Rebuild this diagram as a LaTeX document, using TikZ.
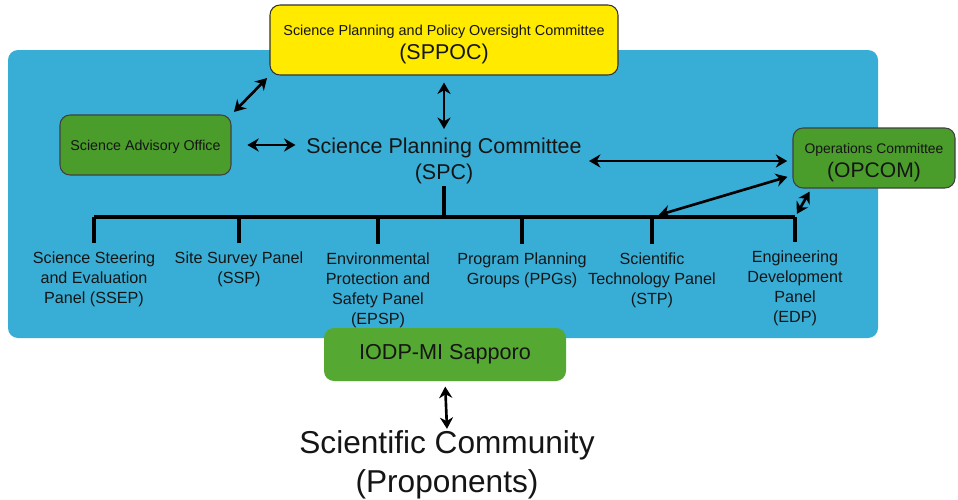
\documentclass[tikz,border=0pt]{standalone}
\usepackage{fontspec}
\setmainfont{Liberation Sans}
\usetikzlibrary{positioning, arrows.meta, shapes.geometric}

\definecolor{panelblue}{HTML}{38AED6}
\definecolor{boardyellow}{HTML}{FFEA00}
\definecolor{officegreen}{HTML}{4A9C2B}
\definecolor{mitgreen}{HTML}{55A832}
\definecolor{inktext}{HTML}{151515}

\begin{document}
\begin{tikzpicture}[
    x=0.2mm, y=-0.2mm,
    text=inktext,
    box/.style={rectangle, rounded corners=2mm, align=center, inner sep=1pt},
    board/.style={box, draw=black!80, fill=boardyellow, line width=0.6pt,
                  minimum width=69.6mm, minimum height=14mm},
    office/.style={box, draw=black!75, fill=officegreen, line width=0.6pt,
                   minimum height=12mm},
    mit/.style={box, fill=mitgreen, minimum width=48.4mm, minimum height=10.6mm},
    panel/.style={align=center, inner sep=1pt, font=\fontsize{9.2}{11.3}\selectfont},
    arrow/.style={{Stealth[length=6.5pt,width=7.5pt]}-{Stealth[length=6.5pt,width=7.5pt]},
                  line width=1.5pt, black},
    tree/.style={line width=2.2pt, black},
    small/.style={font=\fontsize{8.1}{10}\selectfont},
    big/.style={font=\fontsize{12.2}{14.7}\selectfont}
]

% --- Fondo ---
\useasboundingbox (0,0) rectangle (958,500);
\fill[panelblue, rounded corners=2mm] (8,50) rectangle (878,338);

% --- Comites ---
\node[board] (sppoc) at (444,40)
    {{\fontsize{8.2}{10}\selectfont \rule{0pt}{11pt}Science Planning and Policy Oversight Committee}\\[2pt]
     {\fontsize{12.2}{14}\selectfont (SPPOC)}};
\node[office, small, minimum width=34.2mm] (sao) at (145.5,145) {\rule{0pt}{8pt}Science Advisory Office};
\node[big, align=center, inner sep=1pt] (spc) at (444,161) {Science Planning Committee\\(SPC)};
\node[office, minimum width=32.4mm] (opcom) at (874,158)
    {{\fontsize{7.9}{10}\selectfont \rule{0pt}{11pt}Operations Committee}\\[2pt]
     {\fontsize{12}{14}\selectfont (OPCOM)}};

% --- Paneles ---
\coordinate (d1) at (94,217);
\coordinate (d2) at (239,217);
\coordinate (d3) at (378,217);
\coordinate (d4) at (522,217);
\coordinate (d5) at (652,217);
\coordinate (d6) at (795,217);

\node[panel, anchor=north] (ssep) at (94,250) {Science Steering\\and Evaluation\\Panel (SSEP)};
\node[panel, anchor=north] (ssp) at (239,250) {Site Survey Panel\\(SSP)};
\node[panel, anchor=north] (epsp) at (378,251) {Environmental\\Protection and\\Safety Panel\\(EPSP)};
\node[panel, anchor=north] (ppg) at (522,251) {Program Planning\\Groups (PPGs)};
\node[panel, anchor=north] (stp) at (652,251) {Scientific\\Technology Panel\\(STP)};
\node[panel, anchor=north] (edp) at (795,249) {Engineering\\Development\\Panel\\(EDP)};

% --- IODP-MI y comunidad ---
\node[mit, font=\fontsize{12.3}{14}\selectfont] (iodp) at (445,354.5) {IODP-MI Sapporo};
\node[align=center, inner sep=1pt, font=\fontsize{18}{22}\selectfont] (comm) at (447,465)
    {Scientific Community\\(Proponents)};

% --- Arbol ---
\draw[tree] (spc.south) -- (spc.south |- d1);
\draw[tree] (d1) -- (d6);
\foreach \d/\p in {d1/ssep, d2/ssp, d3/epsp, d4/ppg, d5/stp, d6/edp}
    \draw[tree, shorten >=4pt] (\d) -- (\d |- \p.north);

% --- Flechas ---
\draw[arrow, shorten <=2pt, shorten >=2pt] (sao.north east) -- (sppoc.south west);
\draw[arrow, shorten <=4pt, shorten >=4pt] (sppoc.south) -- (spc.north);
\draw[arrow, shorten <=9pt, shorten >=5pt] (sao.east) -- (sao.east -| spc.west);
\draw[arrow, shorten <=3pt, shorten >=3pt] (spc.east) -- (spc.east -| opcom.west);
\draw[arrow, shorten <=3pt, shorten >=4pt] (opcom.192) -- (d5);
\draw[arrow, shorten <=2pt, shorten >=2pt] (opcom.206) -- (d6);
\draw[arrow, shorten <=3pt, shorten >=0pt] (iodp.south) -- (comm.north);

\end{tikzpicture}
\end{document}
